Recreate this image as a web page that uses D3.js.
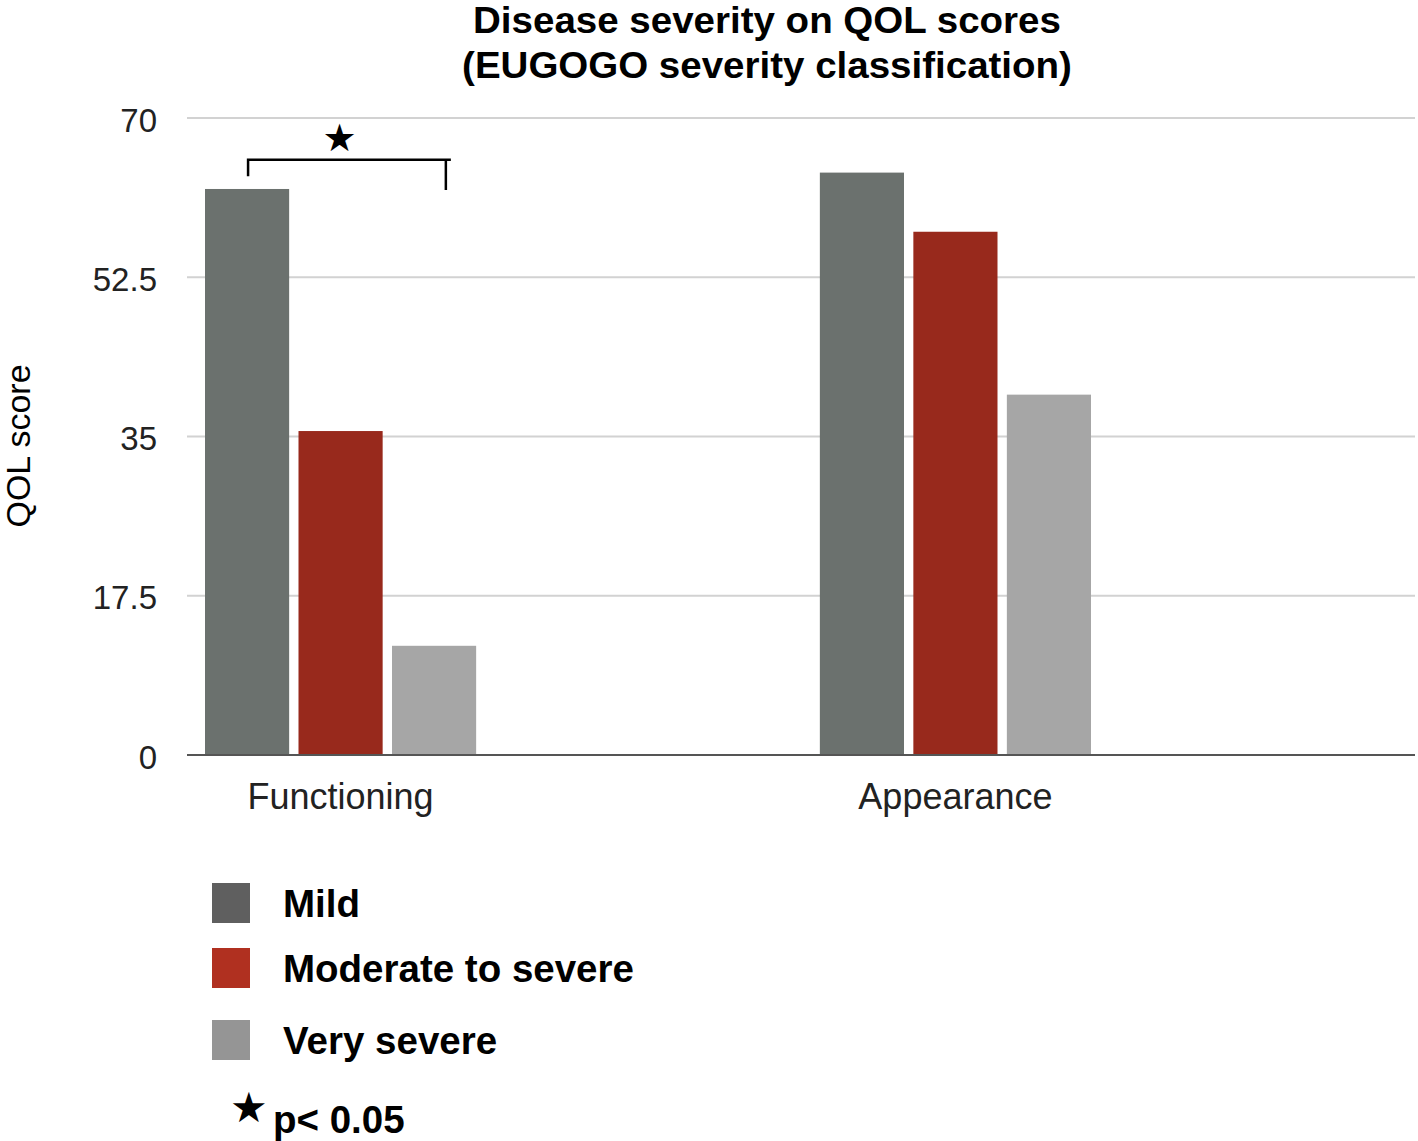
<!DOCTYPE html>
<html><head><meta charset="utf-8">
<script src="https://cdn.jsdelivr.net/npm/d3@7"></script>
<style>body{margin:0;background:#fff}svg{display:block}</style>
</head><body>
<svg id="c" width="1418" height="1141"></svg>
<script>
const categories = ["Functioning", "Appearance"];
const series = ["Mild", "Moderate to severe", "Very severe"];
const mildValues = [62.2, 64.0];
const moderateValues = [35.6, 57.5];
const verySevereValues = [12.0, 39.6];
const yTicks = [0, 17.5, 35, 52.5, 70];
const yTickLabels = ["0", "17.5", "35", "52.5", "70"];
const barColors = ["#6b716e", "#98291c", "#a6a6a6"];
const legendColors = ["#5f5f5f", "#b03020", "#959595"];
const sigLabel = "p< 0.05";

const values = [mildValues, moderateValues, verySevereValues];
const data = categories.map((c, i) => ({cat: c, vals: series.map((s, j) => ({s, v: values[j][i], j}))}));

const svg = d3.select("#c");
const font = "'Liberation Sans', Arial, Helvetica, sans-serif";
const y = d3.scaleLinear().domain([0, 70]).range([755, 118]);
const x0 = d3.scaleBand().domain(categories).range([205, 1091]).paddingInner(0.559).paddingOuter(0);
const x1 = d3.scaleBand().domain(series).range([0, x0.bandwidth()]).paddingInner(0.1);

// title
const title = svg.append("text").attr("text-anchor", "middle")
  .attr("font-family", font).attr("font-weight", "bold").attr("font-size", 36)
  .attr("fill", "#000").attr("transform", "translate(767,0) scale(1.07,1)");
title.append("tspan").attr("x", 0).attr("y", 33).text("Disease severity on QOL scores");
title.append("tspan").attr("x", 0).attr("y", 78).text("(EUGOGO severity classification)");

// grid
const yAxis = d3.axisLeft(y).tickValues(yTicks).tickFormat((d, i) => yTickLabels[i]).tickSize(0).tickPadding(30);
const gy = svg.append("g").attr("transform", "translate(187,0)").call(yAxis);
gy.select(".domain").remove();
gy.selectAll("text").attr("font-family", font).attr("font-size", 33).attr("fill", "#222").attr("dy", "0.4em");
svg.append("g").selectAll("line").data(yTicks.filter(d => d > 0)).join("line")
  .attr("x1", 187).attr("x2", 1415).attr("y1", d => y(d)).attr("y2", d => y(d))
  .attr("stroke", "#d2d2d2").attr("stroke-width", 2);

// bars
const g = svg.append("g");
g.selectAll("g").data(data).join("g").attr("transform", d => `translate(${x0(d.cat)},0)`)
  .selectAll("rect").data(d => d.vals).join("rect")
  .attr("x", d => x1(d.s)).attr("width", x1.bandwidth())
  .attr("y", d => y(d.v)).attr("height", d => y(0) - y(d.v))
  .attr("fill", d => barColors[d.j]);

// baseline
svg.append("line").attr("x1", 187).attr("x2", 1415).attr("y1", y(0)).attr("y2", y(0))
  .attr("stroke", "#555").attr("stroke-width", 2);

// x labels
const xAxis = d3.axisBottom(x0).tickSize(0).tickPadding(28);
const gx = svg.append("g").attr("transform", `translate(0,${y(0)})`).call(xAxis);
gx.select(".domain").remove();
gx.selectAll("text").attr("font-family", font).attr("font-size", 36).attr("fill", "#222");

// y title
svg.append("text").attr("transform", "translate(30,446) rotate(-90)").attr("text-anchor", "middle")
  .attr("font-family", font).attr("font-size", 34).attr("fill", "#000").text("QOL score");

// significance bracket
const bx1 = x0("Functioning") + x1("Mild") + x1.bandwidth() / 2 + 1;
const bx2 = x0("Functioning") + x1("Very severe") + x1.bandwidth() * 0.64;
const by = y(65.4);
svg.append("path")
  .attr("d", `M${bx1},${y(63.6)}V${by}H${bx2 + 5}M${bx2},${by}V${y(62.1)}`)
  .attr("fill", "none").attr("stroke", "#000").attr("stroke-width", 2.5);
svg.append("text").attr("x", x0("Functioning") + x0.bandwidth() / 2 - 1).attr("y", 151).attr("text-anchor", "middle")
  .attr("font-family", "'DejaVu Sans', sans-serif").attr("font-size", 38).text("★");

// legend
const lg = svg.append("g");
const ly = [883, 948, 1020];
series.forEach((s, i) => {
  lg.append("rect").attr("x", 212).attr("y", ly[i]).attr("width", 38).attr("height", 40).attr("fill", legendColors[i]);
  lg.append("text").attr("x", 283).attr("y", ly[i] + 34).attr("font-family", font).attr("font-weight", "bold")
    .attr("font-size", 38.5).attr("fill", "#000").text(s);
});
lg.append("text").attr("x", 230).attr("y", 1122).attr("font-family", "'DejaVu Sans', sans-serif").attr("font-size", 42).text("★");
lg.append("text").attr("x", 273).attr("y", 1133).attr("font-family", font).attr("font-weight", "bold")
  .attr("font-size", 38.5).attr("fill", "#000").text(sigLabel);
</script>
</body></html>
